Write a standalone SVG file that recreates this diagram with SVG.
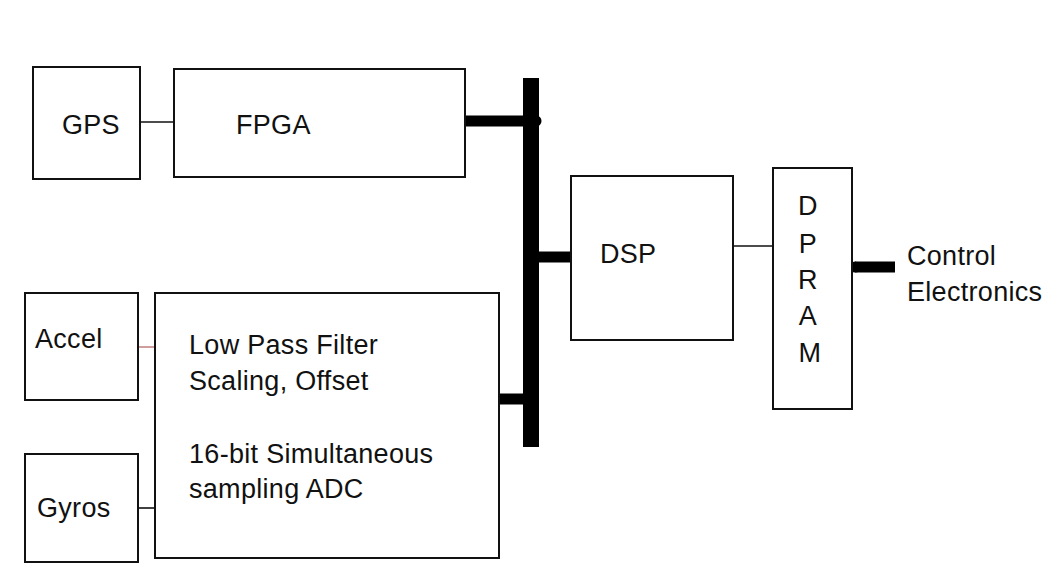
<svg xmlns="http://www.w3.org/2000/svg" width="1046" height="578" viewBox="0 0 1046 578">
<style>
.box{fill:#fff;stroke:#111;stroke-width:2}
.t{font-family:"Liberation Sans",Arial,sans-serif;font-size:27px;fill:#111;letter-spacing:0.3px}
.thin{stroke:#111;stroke-width:1.6;fill:none}
.thick{stroke:#000;stroke-width:11;fill:none}
</style>
<rect width="1046" height="578" fill="#fff"/>
<g id="connectors">
<line class="thin" x1="140" y1="122" x2="174" y2="122"/>
<line class="thick" x1="463" y1="121" x2="536" y2="121" stroke-linecap="round"/>
<rect x="523" y="78" width="16" height="369" fill="#000"/>
<line class="thick" x1="539" y1="257" x2="571" y2="257"/>
<line class="thick" x1="499" y1="399" x2="523" y2="399"/>
<line class="thin" x1="733" y1="246" x2="773" y2="246"/>
<line class="thick" x1="855" y1="267" x2="895" y2="267"/>
<circle cx="855" cy="267" r="5.5" fill="#000"/>
<line x1="138" y1="347" x2="155" y2="347" stroke="#b06060" stroke-width="1.2"/>
<line class="thin" x1="138" y1="508" x2="162" y2="508"/>
</g>
<g id="gps"><rect class="box" x="33" y="67" width="107" height="112"/><text class="t" x="62" y="134">GPS</text></g>
<g id="fpga"><rect class="box" x="174" y="69" width="291" height="108"/><text class="t" x="236" y="134">FPGA</text></g>
<g id="dsp"><rect class="box" x="571" y="176" width="162" height="164"/><text class="t" x="600" y="263">DSP</text></g>
<g id="dpram"><rect class="box" x="773" y="168" width="79" height="241"/>
<text class="t" x="808" text-anchor="middle"><tspan x="808" y="215">D</tspan><tspan x="808" y="253">P</tspan><tspan x="808" y="289">R</tspan><tspan x="808" y="325">A</tspan><tspan x="810" y="362">M</tspan></text></g>
<g id="control"><text class="t" x="907" y="265">Control</text><text class="t" x="907" y="301">Electronics</text></g>
<g id="accel"><rect class="box" x="25" y="293" width="113" height="107"/><text class="t" x="35" y="348">Accel</text></g>
<g id="gyros"><rect class="box" x="25" y="454" width="113" height="108"/><text class="t" x="37" y="517">Gyros</text></g>
<g id="lpf"><rect class="box" x="155" y="293" width="344" height="265"/>
<text class="t" x="189" y="354">Low Pass Filter</text>
<text class="t" x="189" y="390">Scaling, Offset</text>
<text class="t" x="189" y="463">16-bit Simultaneous</text>
<text class="t" x="189" y="498">sampling ADC</text></g>
</svg>
